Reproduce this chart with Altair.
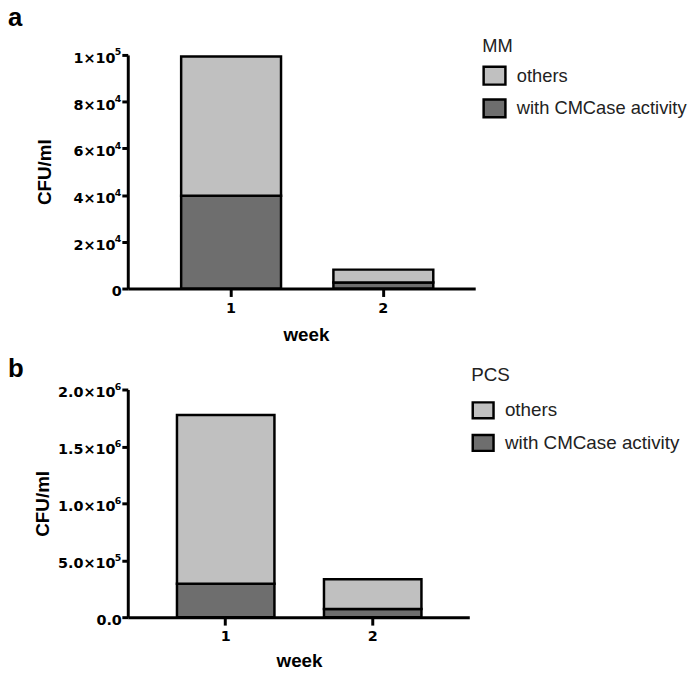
import altair as alt
import pandas as pd

weeks = ["1", "2"]
groups = ["others", "with CMCase activity"]
group_colors = ["#c0c0c0", "#6e6e6e"]

mm_cmcase = [39700, 2600]
mm_others = [59600, 5500]
pcs_cmcase = [293000, 72000]
pcs_others = [1484000, 261000]

mm_ticks = [0, 20000, 40000, 60000, 80000, 100000]
mm_mantissas = ["0", "2×10", "4×10", "6×10", "8×10", "1×10"]
mm_exponents = ["", "4", "4", "4", "4", "5"]
pcs_ticks = [0, 500000, 1000000, 1500000, 2000000]
pcs_mantissas = ["0.0", "5.0×10", "1.0×10", "1.5×10", "2.0×10"]
pcs_exponents = ["", "5", "6", "6", "6"]

FONT = "Liberation Sans"
TICKFONT = "DejaVu Sans"


def label_expr(values, labels):
    expr = "''"
    for v, l in reversed(list(zip(values, labels))):
        expr = f"datum.value == {v} ? '{l}' : ({expr})"
    return expr


def panel(letter, legend_title, cmcase, others, ticks, mantissas, exponents, ymax,
          width, height, pad_inner, pad_outer, align, xtitle_x, xtitle_y,
          ytitle_x, legend_x, legend_y, legend_font, sym_w, sym_h,
          title_pad, row_pad, letter_y, letter_baseline):
    df = pd.DataFrame({
        "week": weeks + weeks,
        "group": [groups[1]] * len(weeks) + [groups[0]] * len(weeks),
        "value": cmcase + others,
        "stackorder": [0] * len(weeks) + [1] * len(weeks),
    })
    yscale = alt.Scale(domain=[0, ymax], nice=False)
    yaxis = alt.Axis(title="CFU/ml", values=ticks,
                     labelExpr=label_expr(ticks, mantissas),
                     labelBaseline="alphabetic", labelOffset=7.5,
                     labelPadding=alt.condition("datum.value == 0", alt.value(0.5), alt.value(7)),
                     titleAngle=-90, titleX=ytitle_x, titleY=height / 2,
                     titleBaseline="middle", titleAlign="center",
                     tickSize=6, labelFontSize=14.5)
    ratio = sym_h / sym_w
    bars = alt.Chart(df).mark_bar(stroke="black", strokeWidth=2.5, opacity=1).encode(
        x=alt.X("week:N",
                scale=alt.Scale(paddingInner=pad_inner, paddingOuter=pad_outer, align=align),
                axis=alt.Axis(title="week", labelAngle=0, titleX=xtitle_x, titleY=xtitle_y,
                              titleBaseline="alphabetic", titleAlign="center",
                              tickSize=8, labelPadding=5, labelFontSize=14.5)),
        y=alt.Y("value:Q", stack="zero", scale=yscale, axis=yaxis),
        color=alt.Color("group:N",
                        scale=alt.Scale(domain=groups, range=group_colors),
                        legend=alt.Legend(
                            title=legend_title, orient="none",
                            legendX=legend_x, legendY=legend_y,
                            titleFont=FONT, titleFontSize=legend_font,
                            titleFontWeight="normal", titleColor="#222222",
                            titlePadding=title_pad,
                            labelFont=FONT, labelFontSize=legend_font,
                            labelColor="#222222", labelOffset=10, labelLimit=0,
                            symbolType=f"M-1,-{ratio:.3f}H1V{ratio:.3f}H-1Z",
                            symbolSize=sym_w * sym_w,
                            symbolStrokeColor="black", symbolStrokeWidth=2.5,
                            symbolOpacity=1, rowPadding=row_pad)),
        order=alt.Order("stackorder:Q", sort="ascending"),
    )
    exp_df = pd.DataFrame({"value": ticks, "exp": exponents})
    exps = alt.Chart(exp_df).transform_filter("datum.exp != ''").mark_text(
        font=TICKFONT, fontSize=9.5, fontWeight="bold", align="right",
        baseline="alphabetic", color="black", dy=0.5
    ).encode(text="exp:N", x=alt.value(-6.5), y=alt.Y("value:Q", scale=yscale, axis=yaxis))
    label = alt.Chart(pd.DataFrame({"t": [letter]})).mark_text(
        font=FONT, fontSize=26, fontWeight="bold", align="left",
        baseline=letter_baseline, color="black"
    ).encode(text="t:N", x=alt.value(-121), y=alt.value(letter_y))
    return alt.layer(bars, exps, label).properties(width=width, height=height)


top = panel("a", "MM", mm_cmcase, mm_others, mm_ticks, mm_mantissas, mm_exponents, 100000,
            351, 236, 0.344, 0.313, 0.56, 180, 53, -84.5, 358, -18, 18.5, 22, 18,
            8, 4, -50, "top")
bottom = panel("b", "PCS", pcs_cmcase, pcs_others, pcs_ticks, pcs_mantissas, pcs_exponents,
               2000000, 345, 230, 0.337, 0.33, 0.507, 173, 50, -86, 347, -24, 19, 21, 16,
               14, 5, -13, "alphabetic")

chart = alt.vconcat(top, bottom, spacing=11).resolve_scale(color="independent").resolve_legend(
    color="independent"
).properties(
    padding={"left": 0, "top": -6, "right": 5, "bottom": 0}
).configure_view(stroke=None).configure_axis(
    grid=False, domainColor="black", domainWidth=3, tickColor="black", tickWidth=3,
    labelFont=TICKFONT, labelFontWeight="bold", labelColor="black",
    titleFont=FONT, titleFontWeight="bold", titleFontSize=19, titleColor="black",
)

chart.save("out.html", embed_options={"renderer": "svg", "actions": False})
